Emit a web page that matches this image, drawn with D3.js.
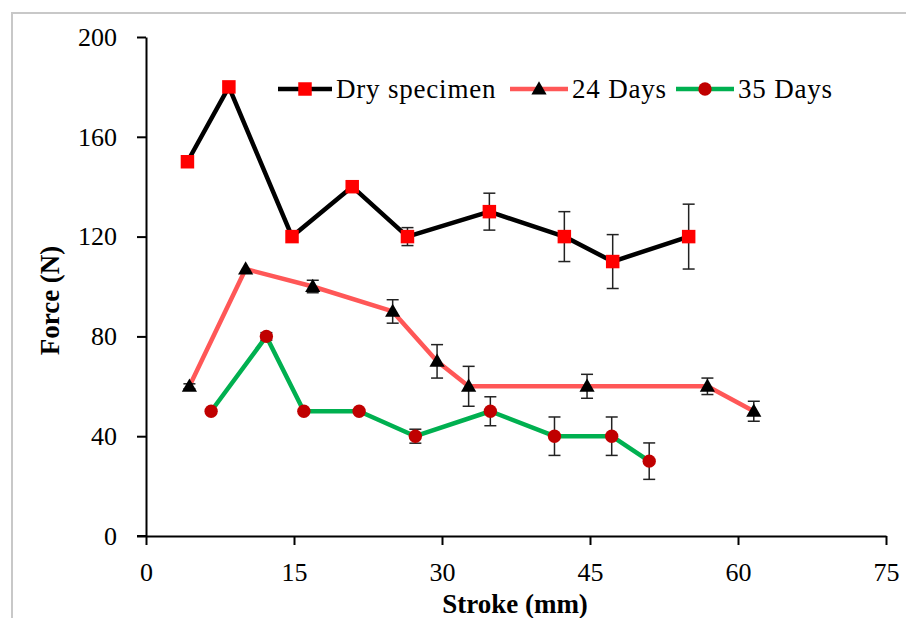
<!DOCTYPE html>
<html>
<head>
<meta charset="utf-8">
<script src="https://cdn.jsdelivr.net/npm/d3@7"></script>
<style>
  html, body { margin: 0; padding: 0; background: #fff; }
  svg { display: block; }
  text { font-family: "Liberation Serif", "Times New Roman", serif; fill: #000; }
</style>
</head>
<body>
<svg id="chart" width="906" height="618"></svg>
<script>
// ---- Data ----
const seriesNames = ["Dry specimen", "24 Days", "35 Days"];

const dryX   = [4.2, 8.4, 14.8, 20.9, 26.5, 34.8, 42.4, 47.3, 55.0];
const dryY   = [150, 180, 120, 140, 120, 130, 120, 110, 120];
const dryErr = [0, 0, 0, 0, 3.6, 7.4, 10, 10.8, 13];

const d24X   = [4.4, 10.1, 16.9, 25.0, 29.5, 32.7, 44.7, 56.9, 61.6];
const d24Y   = [60, 107, 100, 90, 70, 60, 60, 60, 50];
const d24Err = [1, 0, 2.5, 4.7, 6.7, 8, 4.8, 3.3, 4];

const d35X   = [6.6, 12.2, 16.0, 21.6, 27.3, 34.9, 41.4, 47.2, 51.0];
const d35Y   = [50, 80, 50, 50, 40, 50, 40, 40, 30];
const d35Err = [0, 1.5, 0, 0, 2.8, 5.8, 7.7, 7.7, 7.3];

const xTicks = [0, 15, 30, 45, 60, 75];
const yTicks = [0, 40, 80, 120, 160, 200];

// ---- Layout ----
const svg = d3.select("#chart");
const mLeft = 146, mRight = 886, mTop = 37, mBottom = 536;

const x = d3.scaleLinear().domain([0, 75]).range([mLeft, mRight]);
const y = d3.scaleLinear().domain([0, 200]).range([mBottom, mTop]);

// frame
svg.append("path")
  .attr("d", "M12,618 L12,13 L906,13")
  .attr("fill", "none").attr("stroke", "#c8c8c8").attr("stroke-width", 2);

// axes
const xAxis = svg.append("g").attr("transform", `translate(0,${mBottom})`)
  .call(d3.axisBottom(x).tickValues(xTicks).tickSize(9).tickSizeOuter(0).tickPadding(18));
const yAxis = svg.append("g").attr("transform", `translate(${mLeft},0)`)
  .call(d3.axisLeft(y).tickValues(yTicks).tickSize(9).tickSizeOuter(0).tickPadding(20));
[xAxis, yAxis].forEach(g => {
  g.select(".domain").attr("stroke", "#000").attr("stroke-width", 2);
  g.selectAll(".tick line").attr("stroke", "#000").attr("stroke-width", 2);
  g.selectAll(".tick text").attr("font-family", "Liberation Serif").attr("font-size", 26).attr("fill", "#000");
});
// extend x axis line to meet left tick
svg.append("line").attr("x1", mLeft - 9).attr("x2", mLeft).attr("y1", mBottom).attr("y2", mBottom)
  .attr("stroke", "#000").attr("stroke-width", 2);

// axis titles
svg.append("text").attr("x", (mLeft + mRight) / 2 - 1).attr("y", 613)
  .attr("text-anchor", "middle").attr("font-weight", "bold").attr("font-size", 27)
  .text("Stroke (mm)");
svg.append("text").attr("transform", `translate(59,${(mTop + mBottom) / 2 + 14}) rotate(-90)`)
  .attr("text-anchor", "middle").attr("font-weight", "bold").attr("font-size", 27)
  .text("Force (N)");

// series
const series = [
  { name: seriesNames[0], xs: dryX, ys: dryY, err: dryErr, line: "#000000", marker: "square", fill: "#ff0000" },
  { name: seriesNames[1], xs: d24X, ys: d24Y, err: d24Err, line: "#ff5757", marker: "triangle", fill: "#000000" },
  { name: seriesNames[2], xs: d35X, ys: d35Y, err: d35Err, line: "#00b050", marker: "circle", fill: "#c00000" }
];

const symbolFor = m => m === "square" ? d3.symbol().type(d3.symbolSquare).size(182)
  : m === "triangle" ? d3.symbol().type(d3.symbolTriangle).size(100)
  : d3.symbol().type(d3.symbolCircle).size(140);

const lineGen = d3.line().x(d => x(d.x)).y(d => y(d.y));

series.forEach(s => {
  const pts = s.xs.map((v, i) => ({ x: v, y: s.ys[i], e: s.err[i] }));
  svg.append("path").datum(pts).attr("d", lineGen)
    .attr("fill", "none").attr("stroke", s.line).attr("stroke-width", 4.5)
    .attr("stroke-linejoin", "round");
  s.pts = pts;
});

series.forEach(s => {
  const g = svg.append("g");
  const eb = g.selectAll("g.eb").data(s.pts.filter(d => d.e > 0)).join("g");
  eb.append("line").attr("x1", d => x(d.x)).attr("x2", d => x(d.x))
    .attr("y1", d => y(d.y + d.e)).attr("y2", d => y(d.y - d.e));
  eb.append("line").attr("x1", d => x(d.x) - 6).attr("x2", d => x(d.x) + 6)
    .attr("y1", d => y(d.y + d.e)).attr("y2", d => y(d.y + d.e));
  eb.append("line").attr("x1", d => x(d.x) - 6).attr("x2", d => x(d.x) + 6)
    .attr("y1", d => y(d.y - d.e)).attr("y2", d => y(d.y - d.e));
  eb.selectAll("line").attr("stroke", "#222").attr("stroke-width", 1.5);

  g.selectAll("path.mk").data(s.pts).join("path")
    .attr("transform", d => `translate(${x(d.x)},${y(d.y) + (s.marker === "triangle" ? 1 : 0)})`)
    .attr("d", symbolFor(s.marker)).attr("fill", s.fill);
});

// legend
const legendItems = [
  { s: series[0], x0: 278, x1: 332, tx: 336 },
  { s: series[1], x0: 510, x1: 568, tx: 572 },
  { s: series[2], x0: 676, x1: 734, tx: 738 }
];
const ly = 89;
legendItems.forEach(li => {
  svg.append("line").attr("x1", li.x0).attr("x2", li.x1).attr("y1", ly).attr("y2", ly)
    .attr("stroke", li.s.line).attr("stroke-width", 4.5);
  svg.append("path").attr("transform", `translate(${(li.x0 + li.x1) / 2},${ly + (li.s.marker === "triangle" ? 1 : 0)})`)
    .attr("d", symbolFor(li.s.marker)).attr("fill", li.s.fill);
  svg.append("text").attr("x", li.tx).attr("y", ly + 9).attr("font-size", 27)
    .attr("letter-spacing", 0.8)
    .text(li.s.name);
});
</script>
</body>
</html>
